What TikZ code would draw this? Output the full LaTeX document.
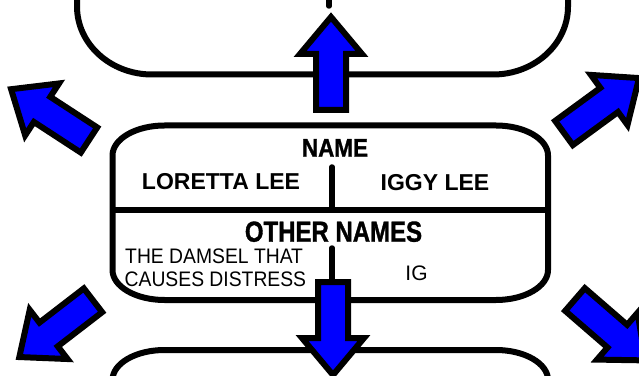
\documentclass[tikz,border=0pt]{standalone}
\usepackage{fontspec}
\setmainfont{Liberation Sans}
\newfontfamily\headfont[FakeStretch=0.88, FakeBold=1.2]{Liberation Sans Bold}
\definecolor{arrowblue}{rgb}{0.0, 0.0, 1.0}
\tikzset{
  boxline/.style={draw=black, line width=6pt},
  divider/.style={draw=black, line width=5.5pt, line cap=round},
  bluearrow/.style={fill=arrowblue, draw=black, line width=6pt, line join=miter},
  heading/.style={font=\headfont\fontsize{25.5}{30}\selectfont, inner sep=0pt, anchor=base},
  person/.style={font=\bfseries\fontsize{23}{27}\selectfont, inner sep=0pt, anchor=base},
  alias/.style={font=\fontsize{21}{25}\selectfont, inner sep=0pt, anchor=base},
}
\newcommand{\blockarrow}[2]{%
  \draw[bluearrow, shift={(#1)}, rotate=#2] (0,-15) -- (56,-15) -- (56,-31) -- (93,0)
    -- (56,31) -- (56,15) -- (0,15) -- cycle;}

\begin{document}
\begin{tikzpicture}[x=1pt, y=1pt]
        \useasboundingbox (0,0) rectangle (639,375);
        \clip (0,0) rectangle (639,375);

        % top panel
        \draw[boxline] (77,480) -- (77,368.5)
          arc[start angle=180, end angle=270, x radius=75, y radius=68] -- (493,300.5)
          arc[start angle=270, end angle=360, x radius=75, y radius=68] -- (568,480);
        \draw[divider] (329,380) -- (329,369);

        % middle panel
        \draw[boxline] (164.5,249.5) -- (496,249.5)
          arc[start angle=90, end angle=0, x radius=52, y radius=30] -- (548,105)
          arc[start angle=0, end angle=-90, x radius=52, y radius=30] -- (164.5,75)
          arc[start angle=270, end angle=180, x radius=52, y radius=30] -- (112.5,219.5)
          arc[start angle=180, end angle=90, x radius=52, y radius=30] -- cycle;
        \draw[boxline] (112.5,165) -- (548,165);
        \draw[divider] (332,208) -- (332,165);
        \draw[divider] (332,127) -- (332,78);

        % bottom panel
        \draw[boxline] (112.5,-200) -- (112.5,-5)
          arc[start angle=180, end angle=90, x radius=52, y radius=30] -- (496,25)
          arc[start angle=90, end angle=0, x radius=52, y radius=30] -- (548,-200);

        \node[heading] (name) at (335,218.3) {NAME};
        \node[person] (loretta) at (221,185) {LORETTA LEE};
        \node[person] (iggy) at (435,184.5) {IGGY LEE};
        \node[heading, font=\headfont\fontsize{29}{33}\selectfont] (other) at (333.5,133.3) {\scalebox{0.94}[1]{OTHER NAMES}};
        \node[alias, anchor=base west] (damsel) at (125,111.7) {\scalebox{0.92}[1]{THE DAMSEL THAT}};
        \node[alias, anchor=base west] (distress) at (124.5,88.3) {\scalebox{0.92}[1]{CAUSES DISTRESS}};
        \node[alias] (ig) at (416.5,94.3) {IG};

        % arrows
        \coordinate (upfoot) at (331,265);
        \coordinate (downfoot) at (333,93);
        \coordinate (nwfoot) at (89,235);
        \coordinate (nefoot) at (564,242);
        \coordinate (swfoot) at (93,74.7);
        \coordinate (sefoot) at (575,75.5);
        \blockarrow{upfoot}{90}
        \blockarrow{downfoot}{-90}
        \blockarrow{nwfoot}{146.9}
        \blockarrow{nefoot}{36.2}
        \blockarrow{swfoot}{217.6}
        \blockarrow{sefoot}{-40.9}
    \end{tikzpicture}
\end{document}
